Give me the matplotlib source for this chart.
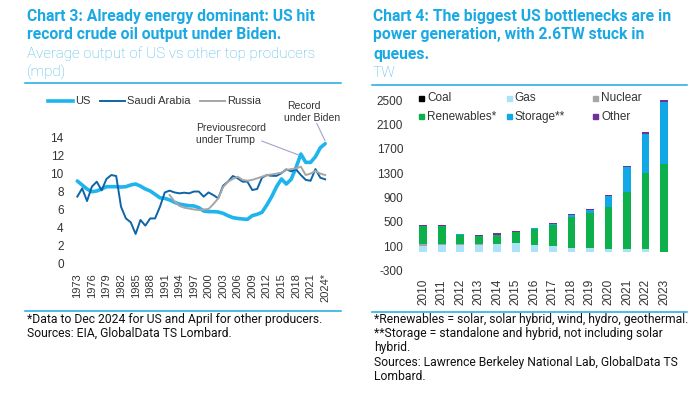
import matplotlib
matplotlib.use("Agg")
import matplotlib.pyplot as plt
from matplotlib.lines import Line2D
from matplotlib.patches import Rectangle
import numpy as np

# ---------------- data: Chart 3 ----------------
years = list(range(1973, 2025))
us = [9.17, 8.73, 8.28, 7.98, 8.06, 8.28, 8.54, 8.54, 8.54, 8.50,
      8.54, 8.73, 8.84, 8.60, 8.28, 8.06, 7.69, 7.30, 7.24, 7.06,
      6.80, 6.60, 6.50, 6.42, 6.39, 6.20, 5.83, 5.76, 5.76, 5.72,
      5.57, 5.31, 5.09, 5.00, 4.94, 4.90, 5.31, 5.46, 5.68, 6.50,
      7.43, 8.54, 9.40, 8.84, 9.36, 10.66, 12.18, 11.25, 11.25, 11.88,
      12.88, 13.33]
saudi = [7.43, 8.35, 6.94, 8.54, 9.10, 8.13, 9.40, 9.84, 9.73, 6.30,
         5.00, 4.57, 3.27, 4.83, 4.20, 5.00, 5.00, 6.30, 7.90, 8.10,
         7.90, 7.80, 7.87, 7.80, 8.00, 8.00, 7.43, 7.90, 7.60, 7.24,
         8.65, 9.10, 9.73, 9.47, 9.10, 9.10, 8.17, 8.28, 9.54, 9.84,
         9.75, 9.75, 10.05, 10.47, 10.25, 10.47, 9.84, 9.30, 9.20, 10.50,
         9.54, 9.36]
russia_years = list(range(1992, 2025))
russia = [7.6, 6.9, 6.4, 6.2, 6.1, 6.0, 5.94, 6.0, 6.05, 6.6,
          7.24, 8.5, 9.1, 9.4, 9.65, 9.3, 9.2, 9.3, 9.47, 9.65,
          9.84, 9.9, 10.0, 10.1, 10.4, 10.5, 10.58, 10.77, 9.84, 10.0,
          10.3, 10.0, 9.84]
line_ticks = list(range(1973, 2022, 3)) + [2024]
line_ticklabels = [str(y) for y in range(1973, 2022, 3)] + ["2024*"]
line_yticks = [0, 2, 4, 6, 8, 10, 12, 14]

# ---------------- data: Chart 4 ----------------
q_years = [str(y) for y in range(2010, 2024)]
coal = [10, 10, 8, 5, 5, 3, 3, 2, 2, 1, 1, 1, 1, 0]
gas = [100, 115, 120, 120, 130, 150, 120, 95, 65, 65, 60, 60, 55, 5]
nuclear = [20, 20, 10, 8, 5, 5, 5, 5, 3, 3, 3, 3, 3, 2]
renewables = [300, 290, 155, 142, 150, 180, 255, 350, 515, 575, 675, 925, 1240, 1440]
storage = [3, 3, 2, 2, 2, 3, 10, 15, 30, 55, 190, 410, 650, 1020]
other = [17, 12, 8, 7, 20, 10, 12, 20, 15, 12, 12, 16, 18, 25]
bar_yticks = [-300, 100, 500, 900, 1300, 1700, 2100, 2500]

# ---------------- styling ----------------
W, H = 692, 394
TITLE_C = "#1BA9E4"
SUB_C = "#4DB9E9"
TICK_C = "#333333"
US_C = "#1EB4EE"
SA_C = "#0D65A8"
RU_C = "#A6A6A6"
bar_colors = ["#000000", "#AAE2F8", "#A6A6A6", "#0DB04B", "#12A8E5", "#7030A0"]
bar_names = ["Coal", "Gas", "Nuclear", "Renewables*", "Storage**", "Other"]
TF = ["Roboto", "DejaVu Sans"]
AF = ["Liberation Sans", "DejaVu Sans"]

fig = plt.figure(figsize=(W / 100, H / 100), dpi=100)
fig.patch.set_facecolor("white")


def fx(px):
    return px / W


def fy(py):
    return 1 - py / H


# ---------- titles / rules ----------
TS = 11.3
SS = 10.9
fig.text(fx(27), fy(16), "Chart 3: Already energy dominant: US hit", family=TF,
         weight="bold", size=TS, color=TITLE_C, va="center", ha="left")
fig.text(fx(27), fy(35), "record crude oil output under Biden.", family=TF,
         weight="bold", size=TS, color=TITLE_C, va="center", ha="left")
fig.text(fx(27), fy(54), "Average output of US vs other top producers", family=TF,
         weight="light", size=SS, color=SUB_C, va="center", ha="left")
fig.text(fx(27), fy(72), "(mpd)", family=TF, weight="light", size=SS,
         color=SUB_C, va="center", ha="left")

fig.text(fx(373), fy(16), "Chart 4: The biggest US bottlenecks are in", family=TF,
         weight="bold", size=TS, color=TITLE_C, va="center", ha="left")
fig.text(fx(373), fy(35), "power generation, with 2.6TW stuck in", family=TF,
         weight="bold", size=TS, color=TITLE_C, va="center", ha="left")
fig.text(fx(373), fy(54), "queues.", family=TF,
         weight="bold", size=TS, color=TITLE_C, va="center", ha="left")
fig.text(fx(373), fy(73), "TW", family=TF, weight="light", size=SS,
         color=SUB_C, va="center", ha="left")

for (x0, x1, y) in [(25, 341, 83), (25, 341, 311), (372, 687, 84.5), (372, 687, 311.5)]:
    fig.add_artist(Line2D([fx(x0), fx(x1)], [fy(y), fy(y)], color=TITLE_C, lw=1.1))

# ---------- footnotes ----------
FN = dict(family=TF, size=8.7, color="#111111", va="center", ha="left")
fig.text(fx(27), fy(319), "*Data to Dec 2024 for US and April for other producers.", **FN)
fig.text(fx(27), fy(333), "Sources: EIA, GlobalData TS Lombard.", **FN)
right_notes = ["*Renewables = solar, solar hybrid, wind, hydro, geothermal.",
               "**Storage = standalone and hybrid, not including solar",
               "hybrid.",
               "Sources: Lawrence Berkeley National Lab, GlobalData TS",
               "Lombard."]
for i, t in enumerate(right_notes):
    fig.text(fx(374), fy(319 + 14.5 * i), t, **FN)

# ---------- Chart 3 axes ----------
ax1 = fig.add_axes([fx(70), fy(263.3), (332 - 70) / W, (263.3 - 137.7) / H])
ax1.plot(years, us, color=US_C, lw=2.6, solid_capstyle="round", clip_on=False, zorder=2)
ax1.plot(years, saudi, color=SA_C, lw=1.4, clip_on=False, zorder=3)
ax1.plot(russia_years, russia, color=RU_C, lw=1.4, clip_on=False, zorder=3)
x_per_yr = 4.86
ax1.set_xlim(1973 - (77.3 - 70) / x_per_yr, 1973 + (332 - 77.3) / x_per_yr)
ax1.set_ylim(0, 14)
ax1.set_xticks(line_ticks)
ax1.set_xticklabels(line_ticklabels, rotation=90, family=AF, fontsize=8, color=TICK_C)
ax1.set_yticks(line_yticks)
ax1.set_yticklabels([str(v) for v in line_yticks], family=AF, fontsize=8.5, color=TICK_C)
ax1.tick_params(axis="x", length=0, pad=7)
ax1.tick_params(axis="y", length=0, pad=4.5)
for s in ax1.spines.values():
    s.set_visible(False)
ax1.patch.set_alpha(0)

# legend (manual, in figure pixels)
for (x0, x1, c, lw, lab) in [(48, 73, US_C, 2.6, "US"), (100, 125, SA_C, 1.4, "Saudi Arabia"),
                             (200, 225, RU_C, 1.4, "Russia")]:
    fig.add_artist(Line2D([fx(x0), fx(x1)], [fy(100.7), fy(100.7)], color=c, lw=lw))
    fig.text(fx(x1 + 2), fy(100.7), lab, family=AF, size=8, color=TICK_C, va="center", ha="left")

# annotations
AN = dict(family=AF, size=7.5, color="#333333", va="center", ha="left")
fig.text(fx(196), fy(128), "Previousrecord", **AN)
fig.text(fx(196), fy(140), "under Trump", **AN)
fig.text(fx(287), fy(106), "Record", **AN)
fig.text(fx(284), fy(118), "under Biden", **AN)
i19 = years.index(2019)
i24 = years.index(2024)
ax1.annotate("", xy=(years[i19] - 0.5, us[i19] - 0.1), xycoords="data",
             xytext=(261.7, H - 141), textcoords="figure pixels",
             arrowprops=dict(arrowstyle="-", color="#9FA3CF", lw=0.8, shrinkA=0, shrinkB=0))
ax1.annotate("", xy=(years[i24], us[i24] + 0.3), xycoords="data",
             xytext=(316.7, H - 123.3), textcoords="figure pixels",
             arrowprops=dict(arrowstyle="-", color="#9FA3CF", lw=0.8, shrinkA=0, shrinkB=0))

# ---------- Chart 4 axes ----------
ax2 = fig.add_axes([fx(408), fy(270.7), (676 - 408) / W, (270.7 - 100) / H])
xpos = np.arange(len(q_years))
bottom = np.zeros(len(q_years))
for vals, col in zip([coal, gas, nuclear, renewables, storage, other], bar_colors):
    v = np.array(vals, dtype=float)
    ax2.bar(xpos, v, bottom=bottom, width=0.42, color=col, linewidth=0, clip_on=False)
    bottom += v
bw = 18.5
ax2.set_xlim(-(423.3 - 408) / bw, 13 + (676 - 664) / bw)
ax2.set_ylim(-300, 2500)
ax2.set_xticks(xpos)
ax2.set_xticklabels(q_years, rotation=90, family=AF, fontsize=8.5, color=TICK_C)
ax2.set_yticks(bar_yticks)
ax2.set_yticklabels([str(v) for v in bar_yticks], family=AF, fontsize=8.5, color=TICK_C)
ax2.tick_params(axis="x", length=0, pad=6)
ax2.tick_params(axis="y", length=0, pad=3.5)
for s in ax2.spines.values():
    s.set_visible(False)
ax2.patch.set_alpha(0)

# legend (manual)
leg_cols = [421.7, 509, 595.7]
leg_rows = [98.3, 116.7]
for i, (name, col) in enumerate(zip(bar_names, bar_colors)):
    r, c = divmod(i, 3)
    x = leg_cols[c]
    y = leg_rows[r]
    fig.add_artist(Rectangle((fx(x - 2.5), fy(y + 2.5)), 5 / W, 5 / H, color=col,
                             transform=fig.transFigure))
    fig.text(fx(x + 5.5), fy(y), name, family=AF, size=8.5, color=TICK_C, va="center", ha="left")

fig.savefig("out.png", dpi=100, facecolor="white")
